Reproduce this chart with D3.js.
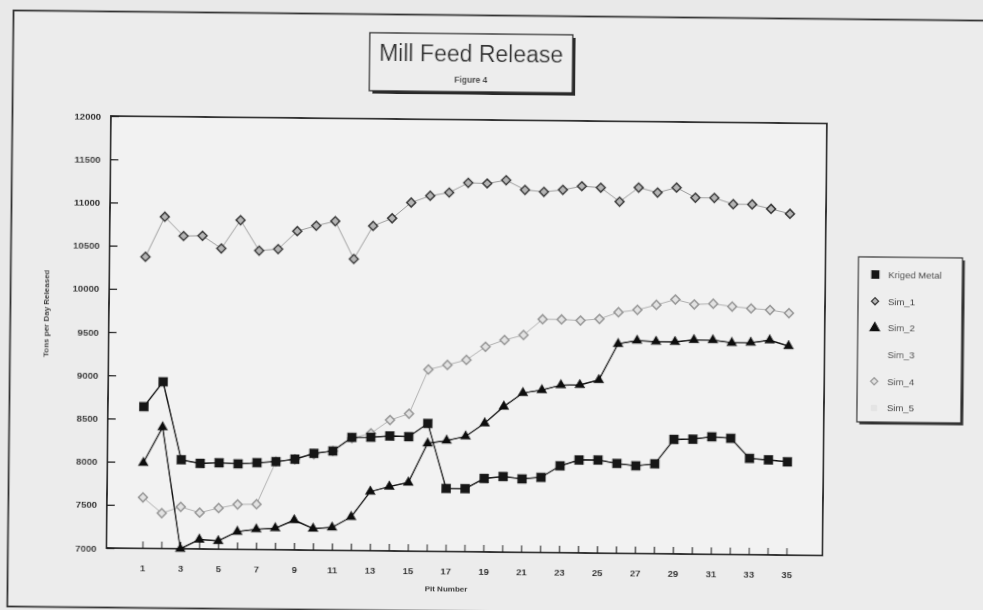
<!DOCTYPE html>
<html>
<head>
<meta charset="utf-8">
<script src="https://cdn.jsdelivr.net/npm/d3@7"></script>
<style>
  body { margin: 0; background: #e9e9e9; }
  svg { display: block; font-family: "Liberation Sans", Arial, sans-serif; }
</style>
</head>
<body>
<div id="chart"></div>
<script>
// pit numbers 1..35
const pits = [1,2,3,4,5,6,7,8,9,10,11,12,13,14,15,16,17,18,19,20,21,22,23,24,25,26,27,28,29,30,31,32,33,34,35];

const krigedMetal = [8640,8930,8030,7990,8000,7990,8005,8020,8050,8120,8150,8310,8313,8330,8325,8480,7730,7730,7850,7875,7850,7870,8005,8075,8078,8040,8015,8040,8325,8330,8360,8345,8115,8100,8080];
const sim1 = [10375,10840,10620,10625,10480,10810,10460,10480,10690,10755,10810,10375,10760,10850,11035,11115,11155,11270,11265,11305,11195,11175,11200,11245,11230,11070,11235,11180,11240,11125,11125,11055,11055,11005,10950];
const sim2 = [7990,8405,7000,7110,7095,7205,7235,7250,7345,7250,7265,7390,7685,7745,7795,8250,8285,8335,8490,8685,8845,8880,8940,8945,9005,9425,9465,9455,9455,9480,9480,9450,9455,9485,9420];
const sim4 = [7590,7410,7485,7420,7475,7520,7525,8020,8050,8110,8150,8300,8360,8515,8590,9105,9160,9220,9375,9455,9515,9700,9700,9690,9710,9790,9820,9880,9945,9890,9900,9870,9850,9835,9800];

const legendNames = ["Kriged Metal", "Sim_1", "Sim_2", "Sim_3", "Sim_4", "Sim_5"];
const yTicks = [7000,7500,8000,8500,9000,9500,10000,10500,11000,11500,12000];

const titleText = "Mill Feed Release";
const subTitleText = "Figure 4";
const yTitle = "Tons per Day Released";
const xTitle = "Pit Number";

const W = 983, H = 610;
const plot = {left: 109, right: 825, top: 120, bottom: 552};

const svg = d3.select("#chart").append("svg")
  .attr("width", W)
  .attr("height", H);

const defs = svg.append("defs");
defs.append("filter").attr("id", "scan")
  .append("feGaussianBlur").attr("stdDeviation", 0.45);

svg.append("rect")
  .attr("width", W).attr("height", H)
  .attr("fill", "#e9e9e9");

// the scanned page is slightly tilted
const g = svg.append("g")
  .attr("transform", "rotate(0.6, 491, 305)")
  .attr("filter", "url(#scan)");

// outer frame
g.append("rect")
  .attr("x", 10.5).attr("y", 15.5)
  .attr("width", 1000).attr("height", 596)
  .attr("fill", "#ececec")
  .attr("stroke", "#333")
  .attr("stroke-width", 1.8);

const x = d3.scaleLinear().domain([-0.9, 36.9]).range([plot.left, plot.right]);
const y = d3.scaleLinear().domain([7000, 12000]).range([plot.bottom, plot.top]);

g.append("rect")
  .attr("x", plot.left).attr("y", plot.top)
  .attr("width", plot.right - plot.left)
  .attr("height", plot.bottom - plot.top)
  .attr("fill", "#f2f2f2");

// axes
const xAxis = g.append("g")
  .attr("transform", `translate(0,${plot.bottom})`)
  .call(d3.axisBottom(x)
    .tickValues(pits)
    .tickSize(-7)
    .tickPadding(16)
    .tickFormat(d => d % 2 ? d : ""));

const yAxis = g.append("g")
  .attr("transform", `translate(${plot.left},0)`)
  .call(d3.axisLeft(y)
    .tickValues(yTicks)
    .tickSize(-8)
    .tickPadding(10)
    .tickFormat(d3.format("d")));

[xAxis, yAxis].forEach(a => {
  a.select(".domain").remove();
  a.selectAll(".tick line").attr("stroke", "#222").attr("stroke-width", 1.3);
  a.selectAll(".tick text")
    .attr("fill", "#222")
    .style("font-size", "9.5px")
    .style("font-weight", "bold");
});

g.append("rect")
  .attr("x", plot.left).attr("y", plot.top)
  .attr("width", plot.right - plot.left)
  .attr("height", plot.bottom - plot.top)
  .attr("fill", "none")
  .attr("stroke", "#222")
  .attr("stroke-width", 1.8);

g.append("text")
  .attr("transform", "translate(49,318) rotate(-90)")
  .attr("text-anchor", "middle")
  .attr("fill", "#333")
  .style("font-size", "8px")
  .style("font-weight", "bold")
  .text(yTitle);

g.append("text")
  .attr("x", 449).attr("y", 592)
  .attr("text-anchor", "middle")
  .attr("fill", "#333")
  .style("font-size", "8px")
  .style("font-weight", "bold")
  .text(xTitle);

// series
const series = [
  {name: "Sim_4", values: sim4, line: "#b0b0b0", lw: 1, shape: "diamond", fill: "#e2e2e2", stroke: "#9a9a9a"},
  {name: "Sim_1", values: sim1, line: "#9a9a9a", lw: 1, shape: "diamond", fill: "#b5b5b5", stroke: "#3a3a3a"},
  {name: "Sim_2", values: sim2, line: "#111", lw: 1.5, shape: "triangle", fill: "#111", stroke: "#111"},
  {name: "Kriged Metal", values: krigedMetal, line: "#111", lw: 1.5, shape: "square", fill: "#151515", stroke: "#151515"}
];

const line = d3.line()
  .x((d, i) => x(pits[i]))
  .y(d => y(d));

const symbols = {
  square: d3.symbol().type(d3.symbolSquare).size(80)(),
  diamond: d3.symbol().type(d3.symbolSquare).size(40)(),
  triangle: d3.symbol().type(d3.symbolTriangle).size(44)()
};

series.forEach(s => {
  const sg = g.append("g");
  sg.append("path")
    .datum(s.values)
    .attr("fill", "none")
    .attr("stroke", s.line)
    .attr("stroke-width", s.lw)
    .attr("d", line);
  sg.selectAll("path.pt")
    .data(s.values)
    .enter().append("path")
      .attr("class", "pt")
      .attr("transform", (d, i) => `translate(${x(pits[i])},${y(d)})` + (s.shape === "diamond" ? " rotate(45)" : ""))
      .attr("d", symbols[s.shape])
      .attr("fill", s.fill)
      .attr("stroke", s.stroke)
      .attr("stroke-width", s.shape === "diamond" ? 1.6 : 0.5);
});

// title box
const tb = {x: 367, y: 34, w: 203, h: 58};
g.append("rect")
  .attr("x", tb.x + 3).attr("y", tb.y + 3)
  .attr("width", tb.w).attr("height", tb.h)
  .attr("fill", "#2a2a2a");
g.append("rect")
  .attr("x", tb.x).attr("y", tb.y)
  .attr("width", tb.w).attr("height", tb.h)
  .attr("fill", "#ededed")
  .attr("stroke", "#2a2a2a")
  .attr("stroke-width", 1.3);
g.append("text")
  .attr("x", tb.x + tb.w / 2).attr("y", 62)
  .attr("text-anchor", "middle")
  .attr("fill", "#333")
  .style("font-size", "23px")
  .text(titleText);
g.append("text")
  .attr("x", tb.x + tb.w / 2).attr("y", 83)
  .attr("text-anchor", "middle")
  .attr("fill", "#333")
  .style("font-size", "8.5px")
  .style("font-weight", "bold")
  .text(subTitleText);

// legend
const lg = {x: 858, y: 253, w: 104, h: 165};
g.append("rect")
  .attr("x", lg.x + 2.5).attr("y", lg.y + 2.5)
  .attr("width", lg.w).attr("height", lg.h)
  .attr("fill", "#333");
g.append("rect")
  .attr("x", lg.x).attr("y", lg.y)
  .attr("width", lg.w).attr("height", lg.h)
  .attr("fill", "#eeeeee")
  .attr("stroke", "#333")
  .attr("stroke-width", 1.2);

const legendStyle = {
  "Kriged Metal": {shape: "square", fill: "#151515", stroke: "#151515", scale: 0.8},
  "Sim_1": {shape: "diamond", fill: "#b5b5b5", stroke: "#3a3a3a", scale: 0.8},
  "Sim_2": {shape: "triangle", fill: "#111", stroke: "#111", scale: 0.9},
  "Sim_3": {shape: "diamond", fill: "#eeeeee", stroke: "#eeeeee", scale: 0.8},
  "Sim_4": {shape: "diamond", fill: "#e2e2e2", stroke: "#9a9a9a", scale: 0.8},
  "Sim_5": {shape: "square", fill: "#e4e4e4", stroke: "#e4e4e4", scale: 0.6}
};

const items = g.selectAll("g.legend-item")
  .data(legendNames)
  .enter().append("g")
    .attr("class", "legend-item")
    .attr("transform", (d, i) => `translate(${lg.x + 17},${lg.y + 17.5 + i * 26.7})`);

items.append("path")
  .attr("transform", d => `scale(${legendStyle[d].scale})` + (legendStyle[d].shape === "diamond" ? " rotate(45)" : ""))
  .attr("d", d => symbols[legendStyle[d].shape])
  .attr("fill", d => legendStyle[d].fill)
  .attr("stroke", d => legendStyle[d].stroke)
  .attr("stroke-width", 1.6);

items.append("text")
  .attr("x", 13)
  .attr("dy", "0.35em")
  .attr("fill", "#333")
  .style("font-size", "9.5px")
  .text(d => d);
</script>
</body>
</html>
